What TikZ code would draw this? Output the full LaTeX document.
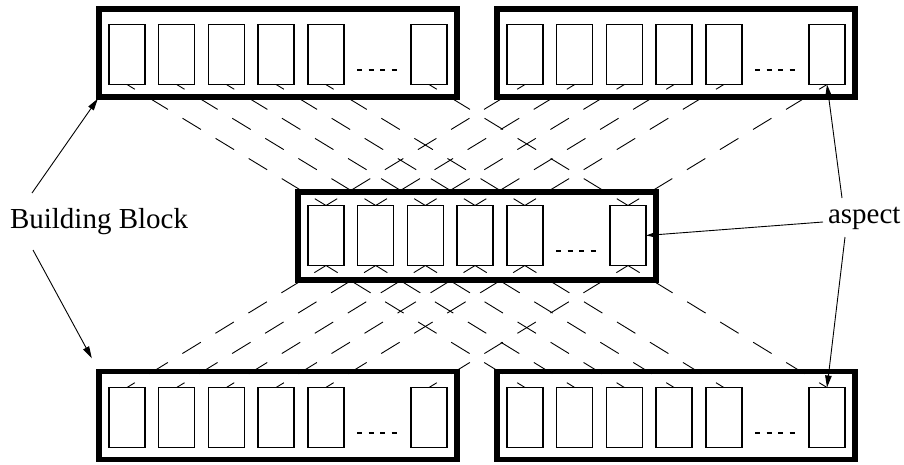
\documentclass[tikz,border=0pt]{standalone}
\usepackage{fontspec}
\setmainfont{Liberation Serif}
\usetikzlibrary{arrows.meta}
\begin{document}
\begin{tikzpicture}[x=1pt,y=-1pt,
  aspectbox/.style={draw, rectangle, line width=1.5pt, minimum width=36pt, minimum height=60pt, inner sep=0pt, outer sep=0pt},
  block/.style={draw, rectangle, line width=5.5pt, minimum width=358pt, minimum height=88pt, inner sep=0pt, outer sep=0pt},
  dots/.style={line width=1.5pt, dash pattern=on 5pt off 6.5pt},
  link/.style={line width=0.9pt, dash pattern=on 21.6pt off 17.1pt, dash phase=12.4pt},
  arr/.style={line width=0.9pt, -{Triangle[length=12pt,width=6.5pt]}},
  lbl/.style={font=\fontsize{29}{34}\selectfont, inner sep=0pt, outer sep=0pt}
]
\useasboundingbox (0,0) rectangle (904,464);
% aspects (small boxes) and dots
\foreach \n/\cx/\cy in {tl/127/54.5, tr/525/54.5, m/326/235.5, bl/127/417.5, br/525/417.5} {
  \foreach \k/\o in {1/0, 2/49.7, 3/99.4, 4/149.1, 5/198.8, 6/302} {
    \node[aspectbox] (\n\k) at (\cx+\o, \cy) {};
  }
  \draw[dots] (\cx+230, \cy+15.5) -- (\cx+269.5, \cy+15.5);
}
% dashed links
\foreach \k in {1,...,6} {
  \draw[link] (tl\k.south) -- (m\k.north);
  \draw[link] (tr\k.south) -- (m\k.north);
  \draw[link] (bl\k.north) -- (m\k.south);
  \draw[link] (br\k.north) -- (m\k.south);
}
% building blocks
\node[block] (TL) at (278,53) {};
\node[block] (TR) at (676,53) {};
\node[block] (M) at (477,236) {};
\node[block] (BL) at (278,415.5) {};
\node[block] (BR) at (676,415.5) {};
% labels
\node[lbl, anchor=base west] (bb) at (10,228) {Building Block};
\node[lbl, anchor=base west] (asp) at (828,223) {aspect};
% arrows
\coordinate (bbup) at (32,193);
\coordinate (bbdn) at (33,250);
\coordinate (asup) at (842,198);
\coordinate (asmid) at (823,222);
\coordinate (asdn) at (845,237);
\draw[arr, shorten >=2pt] (bbup) -- (TL.south west);
\draw[arr, shorten >=15pt] (bbdn) -- (BL.north west);
\draw[arr] (asup) -- (tr6.south);
\draw[arr] (asmid) -- (m6.east);
\draw[arr] (asdn) -- (br6.north);
\end{tikzpicture}
\end{document}
